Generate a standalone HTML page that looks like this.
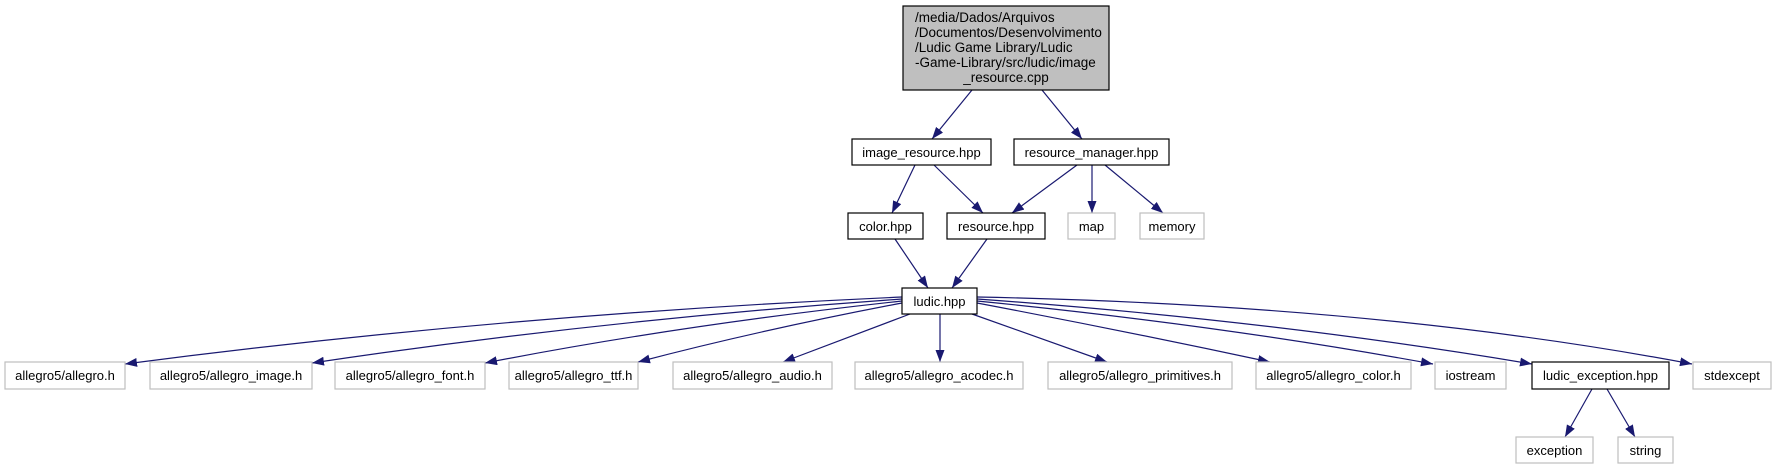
<!DOCTYPE html>
<html><head><meta charset="utf-8"><style>html,body{margin:0;padding:0;background:#fff}svg{display:block}</style></head>
<body>
<svg width="1777" height="469" viewBox="0 0 1777 469" xmlns="http://www.w3.org/2000/svg" font-family="Liberation Sans, Arial, sans-serif" font-size="13">
<defs><marker id="a" viewBox="0 0 12 9" refX="12" refY="4.5" markerWidth="12" markerHeight="9" markerUnits="userSpaceOnUse" orient="auto"><path d="M0,0L12,4.5L0,9z" fill="#191970"/></marker></defs>
<g fill="none" stroke="#191970" stroke-width="1.2" marker-end="url(#a)">
<path d="M972,90L932,139"/>
<path d="M1042,90L1082,139"/>
<path d="M915,165L892,213"/>
<path d="M934,165L983,213"/>
<path d="M1077,165L1012,213"/>
<path d="M1092,165L1092,213"/>
<path d="M1105,165L1163,213"/>
<path d="M895,239L928,288"/>
<path d="M987,239L952,288"/>
<path d="M902,297Q500,315 125,364"/>
<path d="M902,299Q600,320 312,363"/>
<path d="M902,301Q680,325 485,363"/>
<path d="M902,303Q760,330 638,362"/>
<path d="M910,314L783,362"/>
<path d="M940,314L940,362"/>
<path d="M972,314L1107,362"/>
<path d="M977,303Q1120,330 1270,362"/>
<path d="M977,301Q1220,325 1433,364"/>
<path d="M977,299Q1270,320 1532,364"/>
<path d="M977,297Q1380,305 1692,364"/>
<path d="M1592,389L1565,437"/>
<path d="M1607,389L1635,437"/>
</g>
<g stroke="#000" stroke-width="1.2" fill="#fff">
<rect x="903" y="6" width="206" height="84" fill="#bfbfbf"/>
<rect x="852" y="139" width="139" height="26"/>
<rect x="1014" y="139" width="155" height="26"/>
<rect x="848" y="213" width="75" height="26"/>
<rect x="947" y="213" width="98" height="26"/>
<rect x="902" y="288" width="75" height="26"/>
<rect x="1532" y="362" width="137" height="27"/>
</g>
<g stroke="#bfbfbf" stroke-width="1.2" fill="#fff">
<rect x="1068" y="213" width="47" height="26"/>
<rect x="1140" y="213" width="64" height="26"/>
<rect x="5" y="362" width="120" height="27"/>
<rect x="150" y="362" width="162" height="27"/>
<rect x="335" y="362" width="150" height="27"/>
<rect x="509" y="362" width="129" height="27"/>
<rect x="673" y="362" width="159" height="27"/>
<rect x="855" y="362" width="168" height="27"/>
<rect x="1048" y="362" width="184" height="27"/>
<rect x="1256" y="362" width="155" height="27"/>
<rect x="1435" y="362" width="71" height="27"/>
<rect x="1693" y="362" width="78" height="27"/>
<rect x="1516" y="437" width="77" height="26"/>
<rect x="1618" y="437" width="55" height="26"/>
</g>
<g fill="#000">
<g font-size="13.5">
<text x="915" y="22">/media/Dados/Arquivos</text>
<text x="915" y="37">/Documentos/Desenvolvimento</text>
<text x="915" y="52">/Ludic Game Library/Ludic</text>
<text x="915" y="67">-Game-Library/src/ludic/image</text>
<text x="1006" y="82" text-anchor="middle">_resource.cpp</text>
</g>
<g text-anchor="middle">
<text x="921.5" y="157">image_resource.hpp</text>
<text x="1091.5" y="157">resource_manager.hpp</text>
<text x="885.5" y="231">color.hpp</text>
<text x="996" y="231">resource.hpp</text>
<text x="1091.5" y="231">map</text>
<text x="1172" y="231">memory</text>
<text x="939.5" y="306">ludic.hpp</text>
<text x="65" y="380">allegro5/allegro.h</text>
<text x="231" y="380">allegro5/allegro_image.h</text>
<text x="410" y="380">allegro5/allegro_font.h</text>
<text x="573.5" y="380">allegro5/allegro_ttf.h</text>
<text x="752.5" y="380">allegro5/allegro_audio.h</text>
<text x="939" y="380">allegro5/allegro_acodec.h</text>
<text x="1140" y="380">allegro5/allegro_primitives.h</text>
<text x="1333.5" y="380">allegro5/allegro_color.h</text>
<text x="1470.5" y="380">iostream</text>
<text x="1600.5" y="380">ludic_exception.hpp</text>
<text x="1732" y="380">stdexcept</text>
<text x="1554.5" y="455">exception</text>
<text x="1645.5" y="455">string</text>
</g>
</g>
</svg>
</body></html>
